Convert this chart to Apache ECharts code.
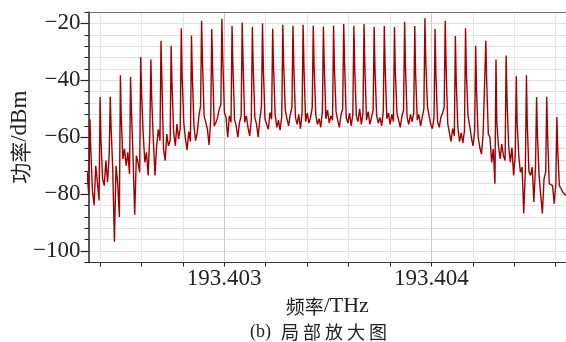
<!DOCTYPE html>
<html><head><meta charset="utf-8">
<script src="https://cdn.jsdelivr.net/npm/echarts@6/dist/echarts.min.js"></script>
<style>html,body{margin:0;padding:0;background:#fff}#c{width:566px;height:342px}</style>
</head><body><div id="c"></div>
<script>
// Sample frequency = 193.402 THz + offset (MHz)
const FREQ_BASE_THZ = 193.402;
const freqOffsetMHz = [
  330,338,346,
  352,356,364,372,380,388,396,
  401,405,413,421,429,437,445,
  450,454,462,470,478,486,494,
  499,503,511,519,527,535,543,
  548,552,560,568,576,584,592,
  597,601,609,617,625,633,641,
  646,650,658,666,674,682,690,
  695,699,707,715,723,731,739,
  744,748,756,764,772,780,788,
  793,797,805,813,821,829,837,
  842,846,854,862,870,878,886,
  891,895,903,911,919,927,935,
  940,944,952,960,968,976,984,
  989,993,1001,1009,1017,1025,1033,
  1038,1042,1050,1058,1066,1074,1082,
  1087,1091,1099,1107,1115,1123,1131,
  1136,1140,1148,1156,1164,1172,1180,
  1185,1189,1197,1205,1213,1221,1229,
  1234,1238,1246,1254,1262,1270,1278,
  1283,1287,1295,1303,1311,1319,1327,
  1332,1336,1344,1352,1360,1368,1376,
  1381,1385,1393,1401,1409,1417,1425,
  1430,1434,1442,1450,1458,1466,1474,
  1479,1483,1491,1499,1507,1515,1523,
  1528,1532,1540,1548,1556,1564,1572,
  1577,1581,1589,1597,1605,1613,1621,
  1626,1630,1638,1646,1654,1662,1670,
  1675,1679,1687,1695,1703,1711,1719,
  1724,1728,1736,1744,1752,1760,1768,
  1773,1777,1785,1793,1801,1809,1817,
  1822,1826,1834,1842,1850,1858,1866,
  1871,1875,1883,1891,1899,1907,1915,
  1920,1924,1932,1940,1948,1956,1964,
  1969,1973,1981,1989,1997,2005,2013,
  2018,2022,2030,2038,2046,2054,2062,
  2067,2071,2079,2087,2095,2103,2111,
  2116,2120,2128,2136,2144,2152,2160,
  2165,2169,2177,2185,2193,2201,2209,
  2214,2218,2226,2234,2242,2250,2258,
  2263,2267,2275,2283,2291,2299,2307,
  2312,2316,2324,2332,2340,2348,2356,
  2361,2365,2373,2381,2389,2397,2405,
  2410,2414,2422,2430,2438,2446,2454,
  2459,2463,2471,2479,2487,2495,2503,
  2508,2512,2520,2528,2536,2544,2552,
  2557,2561,2569,2577,2585,2593,2601,
  2606,2610,2618,2626,2634,2642,2650,
  2658
];
const powerDbm = [
  -79.0,-72.0,-80.0,
  -53.7,-64.1,-78.7,-83.9,-70.0,-75.8,-82.2,
  -45.9,-60.6,-74.6,-77.0,-68.2,-75.8,-65.9,
  -45.8,-56.6,-71.1,-96.7,-70.0,-76.3,-88.0,
  -38.2,-53.1,-67.6,-64.1,-70.0,-65.3,-72.9,
  -38.8,-50.2,-67.0,-87.2,-66.5,-68.8,-72.3,
  -31.8,-43.8,-58.9,-68.8,-65.3,-73.4,-58.9,
  -32.7,-46.1,-61.2,-73.4,-63.0,-57.2,-61.2,
  -26.1,-39.1,-64.1,-68.2,-58.9,-63.0,-61.2,
  -27.9,-41.1,-58.3,-63.0,-55.4,-60.6,-56.6,
  -21.7,-38.6,-55.0,-60.6,-64.5,-58.0,-61.5,
  -24.3,-37.4,-56.0,-61.2,-58.3,-52.5,-49.0,
  -19.1,-32.7,-52.5,-54.8,-57.2,-62.7,-53.7,
  -22.0,-35.3,-56.0,-54.8,-53.1,-50.2,-48.5,
  -18.4,-31.9,-51.3,-53.1,-60.0,-52.5,-54.8,
  -20.9,-34.5,-53.7,-56.0,-60.0,-54.8,-52.5,
  -19.7,-33.1,-54.8,-52.5,-56.6,-59.5,-53.7,
  -21.3,-35.3,-53.1,-55.4,-60.0,-53.7,-49.0,
  -20.0,-35.6,-53.7,-55.4,-57.2,-51.3,-53.7,
  -21.9,-34.8,-52.0,-56.5,-54.0,-57.5,-52.5,
  -20.5,-34.5,-50.5,-53.5,-56.0,-52.0,-49.5,
  -20.8,-35.1,-53.0,-55.5,-52.0,-57.0,-51.5,
  -20.5,-35.1,-54.5,-51.5,-55.0,-53.0,-49.5,
  -20.8,-35.1,-52.0,-55.5,-53.5,-56.5,-51.0,
  -21.1,-34.8,-53.5,-50.5,-55.0,-52.5,-54.0,
  -20.8,-35.4,-51.0,-54.0,-56.5,-52.0,-50.0,
  -20.2,-33.7,-53.0,-55.0,-51.5,-56.0,-52.0,
  -20.8,-35.6,-52.5,-54.5,-50.0,-55.5,-51.5,
  -20.2,-34.5,-54.0,-51.0,-55.5,-53.0,-50.5,
  -21.3,-36.6,-52.5,-55.0,-53.0,-56.0,-51.0,
  -20.9,-35.4,-53.5,-51.5,-55.5,-52.0,-54.5,
  -21.3,-36.8,-51.5,-54.0,-56.5,-52.5,-50.5,
  -19.4,-35.1,-53.0,-55.5,-52.0,-54.5,-51.5,
  -20.9,-38.0,-54.0,-52.0,-56.0,-53.0,-50.0,
  -18.2,-33.0,-49.0,-52.5,-55.5,-57.0,-53.0,
  -22.0,-38.0,-54.5,-56.5,-53.0,-51.5,-49.5,
  -19.1,-34.5,-55.0,-58.5,-61.5,-57.0,-59.5,
  -24.4,-40.3,-56.5,-61.5,-58.5,-62.0,-57.5,
  -21.7,-37.0,-52.5,-56.0,-60.0,-63.0,-58.0,
  -27.9,-43.2,-60.0,-63.6,-65.9,-58.9,-58.3,
  -26.1,-40.1,-58.9,-60.0,-68.8,-64.1,-76.3,
  -32.7,-54.8,-63.0,-67.6,-62.4,-66.5,-68.2,
  -31.3,-46.1,-63.0,-68.8,-63.6,-73.4,-66.0,
  -38.6,-54.8,-66.5,-72.3,-70.5,-86.8,-71.1,
  -38.2,-55.4,-72.0,-73.4,-70.5,-82.7,-70.0,
  -45.9,-58.9,-73.4,-80.4,-86.8,-74.6,-72.3,
  -45.8,-58.9,-76.3,-75.8,-77.0,-83.3,-76.3,
  -52.9,-64.1,-77.0,-78.1,-79.2,-78.7,-80.4,
  -79.0
];
const xTickTHz = [193.4024,193.4026,193.4028,193.403,193.4032,193.4034,193.4036,193.4038,193.404,193.4042,193.4044,193.4046];
const xLabelTHz = [193.403, 193.404];
const yLabelDbm = [-100, -80, -60, -40, -20];
const yMajorTick = [-100, -80, -60, -40, -20];

const X_MIN = 193.402345, X_MAX = 193.40465;
const Y_MIN = -104, Y_MAX = -16;
const serif = 'Liberation Serif';
const cjk = 'Noto Sans CJK SC';
const ink = '#222';

const seriesData = freqOffsetMHz.map((m, i) => [FREQ_BASE_THZ + m / 1e6, powerDbm[i]]);
const chart = echarts.init(document.getElementById('c'), null, {renderer: 'canvas'});
chart.setOption({
  animation: false,
  grid: {left: 88.5, right: 0, top: 12, bottom: 79.5, containLabel: false, outerBoundsMode: 'none'},
  title: {
    text: '{lat|(b)}  {cjk|局 部 放 大 图}',
    left: 250, top: 323, padding: 0,
    textStyle: {fontWeight: 'normal', rich: {
      lat: {fontFamily: serif, fontSize: 18, color: ink, fontWeight: 'normal'},
      cjk: {fontFamily: cjk, fontSize: 18, color: ink, fontWeight: 'normal'}
    }}
  },
  xAxis: [{
    type: 'value', min: X_MIN, max: X_MAX, position: 'bottom',
    axisLine: {show: true, onZero: false, lineStyle: {color: ink, type: 'dotted', width: 1}},
    axisTick: {show: true, customValues: xTickTHz, length: 4, lineStyle: {color: ink}},
    splitLine: {show: true, lineStyle: {color: ['#e6e6e6','#e6e6e6','#e6e6e6','#cccccc','#e6e6e6'], width: 1}},
    axisLabel: {customValues: xLabelTHz, formatter: v => v.toFixed(3), fontFamily: serif, fontSize: 23, color: ink, margin: 5},
    name: '{cjk|频率}{lat|/THz}', nameLocation: 'middle', nameGap: 33, nameMoveOverlap: false,
    nameTextStyle: {rich: {
      cjk: {fontFamily: cjk, fontSize: 19, color: ink},
      lat: {fontFamily: serif, fontSize: 22, color: ink}
    }}
  }, {
    type: 'value', min: X_MIN, max: X_MAX, position: 'top',
    axisLine: {show: true, onZero: false, lineStyle: {color: '#666', type: 'dotted', width: 1}},
    axisTick: {show: false}, axisLabel: {show: false}, splitLine: {show: false}
  }],
  yAxis: [{
    type: 'value', min: Y_MIN, max: Y_MAX, interval: 4, position: 'left',
    axisLine: {show: true, onZero: false, lineStyle: {color: ink, width: 1.5}},
    axisTick: {show: true, length: 4, lineStyle: {color: ink}},
    splitLine: {show: true, lineStyle: {color: '#e2e2e2', width: 1}},
    axisLabel: {customValues: yLabelDbm, formatter: v => String(v).replace('-', '\u2212'), fontFamily: serif, fontSize: 23, color: ink, margin: 8},
    name: '{cjk|功率}{lat|/dBm}', nameLocation: 'middle', nameGap: 57, nameMoveOverlap: false,
    nameTextStyle: {rich: {
      cjk: {fontFamily: cjk, fontSize: 21, color: ink},
      lat: {fontFamily: serif, fontSize: 23, color: ink}
    }}
  }, {
    type: 'value', min: Y_MIN, max: Y_MAX, position: 'left', offset: 0,
    axisLine: {show: false},
    axisTick: {show: true, customValues: yMajorTick, length: 8, lineStyle: {color: ink, width: 1.2}},
    axisLabel: {show: false}, splitLine: {show: false}
  }],
  series: [{
    type: 'line', data: seriesData, xAxisIndex: 0, yAxisIndex: 0,
    showSymbol: false, symbol: 'none', clip: true,
    lineStyle: {color: '#a30000', width: 1.4}
  }]
});
</script></body></html>
